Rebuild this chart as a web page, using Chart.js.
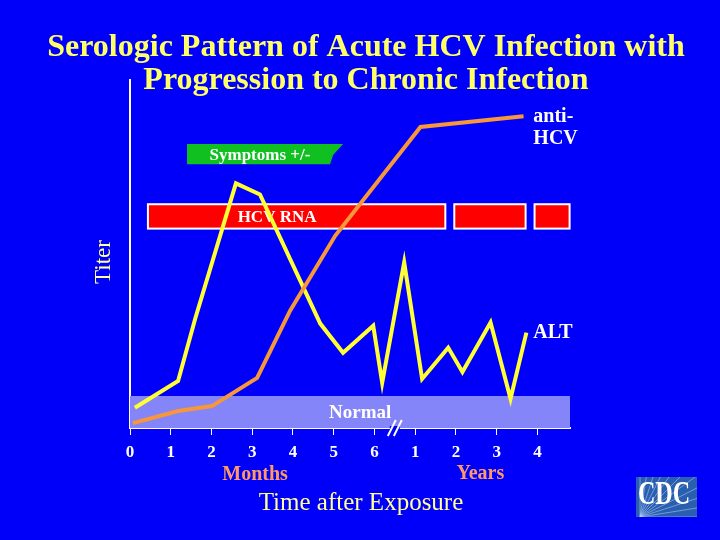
<!DOCTYPE html>
<html>
<head>
<meta charset="utf-8">
<script src="https://cdn.jsdelivr.net/npm/chart.js@4.4.1/dist/chart.umd.min.js"></script>
<style>
  html, body { margin: 0; padding: 0; background: #0000fa; }
  #wrap { width: 720px; height: 540px; }
</style>
</head>
<body>
<div id="wrap"><canvas id="c" width="720" height="540"></canvas></div>
<script>
// values (x in axis units: 0-6 months, 7-10 = years 1-4)
const tickValues = [0, 1, 2, 3, 4, 5, 6, 7, 8, 9, 10];
const tickLabels = ['0', '1', '2', '3', '4', '5', '6', '1', '2', '3', '4'];

const altX = [0.12, 1.18, 1.6, 2.6, 3.19, 4.67, 5.23, 5.97, 6.19, 6.73, 7.17, 7.81, 8.16, 8.85, 9.34, 9.73];
const altY = [5.8, 13.5, 31.4, 70.3, 67.1, 30.0, 21.6, 29.4, 13.0, 47.6, 14.1, 23.1, 16.1, 30.3, 8.4, 27.4];

const hcvX = [0.07, 1.18, 2.01, 3.12, 3.93, 5.04, 7.13, 9.66];
const hcvY = [1.4, 4.9, 6.3, 14.4, 33.7, 55.3, 86.5, 89.6];

// HCV RNA detected periods
const rnaStart = [0.44, 7.96, 9.93];
const rnaEnd = [7.74, 9.71, 10.79];
const rnaRange = [57.3, 64.3];

const symptomsRange = [1.4, 5.23];
const normalTop = 9.2;

const BG = '#0000fa';
const SERIF = "'Liberation Serif', 'Times New Roman', serif";

function pts(xs, ys) {
  return xs.map((x, i) => ({ x: x, y: ys[i] }));
}

const slide = {
  id: 'slide',
  beforeDraw(chart) {
    const ctx = chart.ctx;
    ctx.save();
    ctx.fillStyle = BG;
    ctx.fillRect(0, 0, chart.width, chart.height);
    ctx.restore();
  },
  beforeDatasetsDraw(chart) {
    const ctx = chart.ctx;
    const x = chart.scales.x, y = chart.scales.y;
    ctx.save();

    // normal range band
    ctx.fillStyle = '#8585fa';
    const nx0 = x.getPixelForValue(0), nx1 = x.getPixelForValue(x.max);
    const ny0 = y.getPixelForValue(normalTop), ny1 = y.getPixelForValue(0);
    ctx.fillRect(nx0, ny0, nx1 - nx0, ny1 - ny0);
    ctx.fillStyle = '#ffffff';
    ctx.font = 'bold 19px ' + SERIF;
    ctx.textAlign = 'center';
    ctx.textBaseline = 'middle';
    ctx.fillText('Normal', x.getPixelForValue(5.65), y.getPixelForValue(4.3));

    // HCV RNA bars
    const ry0 = y.getPixelForValue(rnaRange[1]), ry1 = y.getPixelForValue(rnaRange[0]);
    rnaStart.forEach((s, i) => {
      const a = x.getPixelForValue(s), b = x.getPixelForValue(rnaEnd[i]);
      ctx.fillStyle = '#ff0000';
      ctx.fillRect(a, ry0, b - a, ry1 - ry0);
      ctx.strokeStyle = '#ffffff';
      ctx.lineWidth = 2;
      ctx.strokeRect(a, ry0, b - a, ry1 - ry0);
    });
    ctx.fillStyle = '#ffffff';
    ctx.font = 'bold 17px ' + SERIF;
    ctx.fillText('HCV RNA', x.getPixelForValue(3.61), (ry0 + ry1) / 2 + 1);

    // symptoms tag with torn right edge
    const sx0 = x.getPixelForValue(symptomsRange[0]), sx1 = x.getPixelForValue(symptomsRange[1]);
    const sy0 = y.getPixelForValue(81.6), sy1 = y.getPixelForValue(75.8);
    ctx.fillStyle = '#10c020';
    ctx.beginPath();
    ctx.moveTo(sx0, sy0);
    ctx.lineTo(sx1, sy0);
    ctx.lineTo(sx1 - 10, sy0 + 11);
    ctx.lineTo(sx1 - 13, sy1);
    ctx.lineTo(sx0, sy1);
    ctx.closePath();
    ctx.fill();
    ctx.fillStyle = '#ffffff';
    ctx.font = 'bold 17px ' + SERIF;
    ctx.fillText('Symptoms +/-', x.getPixelForValue(3.19), (sy0 + sy1) / 2 + 1);

    ctx.restore();
  },
  afterDraw(chart) {
    const ctx = chart.ctx;
    const x = chart.scales.x, y = chart.scales.y;
    ctx.save();
    ctx.textAlign = 'center';
    ctx.textBaseline = 'middle';

    // title
    ctx.fillStyle = '#ffff66';
    ctx.font = 'bold 32px ' + SERIF;
    ctx.fillText('Serologic Pattern of Acute HCV Infection with', 366, 48);
    ctx.fillText('Progression to Chronic Infection', 366, 81);

    // series labels
    ctx.fillStyle = '#ffffff';
    ctx.font = 'bold 20px ' + SERIF;
    ctx.textAlign = 'left';
    ctx.fillText('anti-', x.getPixelForValue(9.9), y.getPixelForValue(89.4));
    ctx.fillText('HCV', x.getPixelForValue(9.9), y.getPixelForValue(83.0));
    ctx.fillText('ALT', x.getPixelForValue(9.9), y.getPixelForValue(27.3));

    // axis captions
    ctx.textAlign = 'center';
    ctx.fillStyle = '#ff9966';
    ctx.font = 'bold 20px ' + SERIF;
    ctx.fillText('Months', x.getPixelForValue(3.07), 475);
    ctx.fillText('Years', x.getPixelForValue(8.6), 474);
    ctx.fillStyle = '#ffff99';
    ctx.font = '25px ' + SERIF;
    ctx.fillText('Time after Exposure', 361, 503);

    ctx.save();
    ctx.translate(104, 262);
    ctx.rotate(-Math.PI / 2);
    ctx.font = '23px ' + SERIF;
    ctx.fillText('Titer', 0, 0);
    ctx.restore();

    // axis break
    const bx = x.getPixelForValue(6.5), by = y.getPixelForValue(0);
    ctx.fillStyle = BG;
    ctx.fillRect(bx - 5, by - 2, 10, 4);
    ctx.strokeStyle = '#ffffff';
    ctx.lineWidth = 2;
    [-3, 3].forEach(d => {
      ctx.beginPath();
      ctx.moveTo(bx + d - 4, by + 8);
      ctx.lineTo(bx + d + 4, by - 8);
      ctx.stroke();
    });

    // CDC logo
    ctx.save();
    ctx.beginPath();
    ctx.rect(636, 477, 61, 40);
    ctx.clip();
    ctx.fillStyle = '#2a5fb0';
    ctx.fillRect(636, 477, 61, 40);
    ctx.strokeStyle = 'rgba(190,215,255,0.5)';
    ctx.lineWidth = 1;
    for (let k = 0; k <= 10; k++) {
      const a = -k * (Math.PI / 2) / 10;
      ctx.beginPath();
      ctx.moveTo(640, 517);
      ctx.lineTo(640 + 90 * Math.cos(a), 517 + 90 * Math.sin(a));
      ctx.stroke();
    }
    ctx.restore();
    ctx.save();
    ctx.translate(664, 495);
    ctx.scale(0.73, 1);
    ctx.fillStyle = '#ffffff';
    ctx.font = 'bold 33px ' + SERIF;
    ctx.fillText('CDC', 0, 0);
    ctx.restore();

    ctx.restore();
  }
};

new Chart(document.getElementById('c'), {
  type: 'line',
  data: {
    datasets: [
      {
        label: 'anti-HCV',
        data: pts(hcvX, hcvY),
        borderColor: '#f7973a',
        borderWidth: 4,
        pointRadius: 0,
        tension: 0
      },
      {
        label: 'ALT',
        data: pts(altX, altY),
        borderColor: '#ffff33',
        borderWidth: 4,
        pointRadius: 0,
        tension: 0
      }
    ]
  },
  options: {
    responsive: false,
    animation: false,
    layout: { padding: { left: 130, top: 80, right: 150, bottom: 0 } },
    plugins: { legend: { display: false }, tooltip: { enabled: false }, title: { display: false } },
    scales: {
      x: {
        type: 'linear',
        min: 0,
        max: 10.8,
        afterBuildTicks(scale) { scale.ticks = tickValues.map(v => ({ value: v })); },
        afterFit(scale) { scale.height = 112; },
        border: { display: true, color: '#ffffff', width: 2 },
        grid: { drawOnChartArea: false, color: '#ffffff', tickLength: 7, tickWidth: 1 },
        ticks: {
          color: '#ffffff',
          padding: 7,
          maxRotation: 0,
          font: { family: SERIF, size: 17, weight: 'bold' },
          callback: (v) => tickLabels[tickValues.indexOf(v)]
        }
      },
      y: {
        min: 0,
        max: 100,
        afterFit(scale) { scale.width = 0; },
        border: { display: true, color: '#ffffff', width: 2 },
        grid: { display: false },
        ticks: { display: false }
      }
    }
  },
  plugins: [slide]
});
</script>
</body>
</html>
